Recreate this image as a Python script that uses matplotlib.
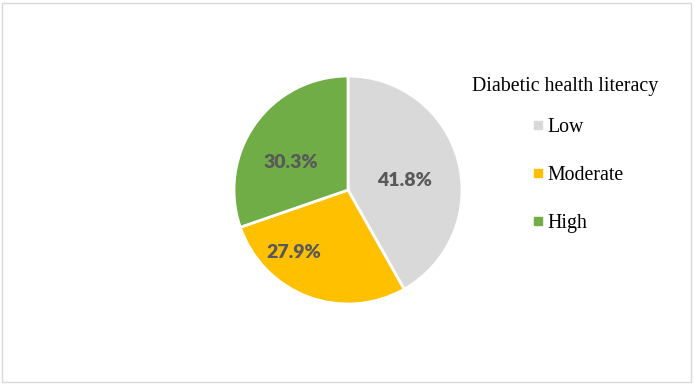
import matplotlib.pyplot as plt
from matplotlib.lines import Line2D
from matplotlib.patches import Rectangle

# Data
categories = ['Low', 'Moderate', 'High']
shares = [41.8, 27.9, 30.3]
colors = ['#D9D9D9', '#FFC000', '#70AD47']
legend_title = 'Diabetic health literacy'

W, H = 694, 384
cx, cy, R = 348, H - 190, 114
# label offsets from pie centre (Excel-style "best fit" placement)
label_offsets = [(57, 9), (-54, -63), (-57, 28)]

fig = plt.figure(figsize=(W / 100, H / 100), dpi=100)
fig.patch.set_facecolor('white')

# outer frame
fig.add_artist(Rectangle((2 / W, 2 / H), (W - 5) / W, (H - 5) / H, transform=fig.transFigure,
                         fill=False, edgecolor='#D9D9D9', linewidth=1))

ax = fig.add_axes([0, 0, 1, 1])
ax.set_aspect('equal')
ax.axis('off')

wedges, texts, autotexts = ax.pie(
    shares, colors=colors, startangle=90, counterclock=False,
    center=(cx, cy), radius=R,
    autopct=lambda p: f'{p:.1f}%', pctdistance=0.55,
    wedgeprops=dict(edgecolor='white', linewidth=2),
    textprops=dict(color='#595959', fontsize=14, fontweight='heavy', family='Lato'))
for t, (dx, dy) in zip(autotexts, label_offsets):
    t.set_position((cx + dx, cy + dy))
ax.set_xlim(0, W)
ax.set_ylim(0, H)

fig.text(472 / W, 1 - 87 / H, legend_title, family='Liberation Serif', fontsize=14.3,
         va='center', ha='left', color='black')

handles = [Line2D([], [], marker='s', linestyle='', markersize=6, color=c) for c in colors]
fig.legend(handles, categories, loc='upper left', bbox_to_anchor=(518 / W, 1 - 108 / H),
           frameon=False, prop=dict(family='Liberation Serif', size=14.3),
           labelspacing=1.45, handletextpad=0.0, handlelength=1.0, borderpad=0)

fig.savefig('out.png', dpi=100)
